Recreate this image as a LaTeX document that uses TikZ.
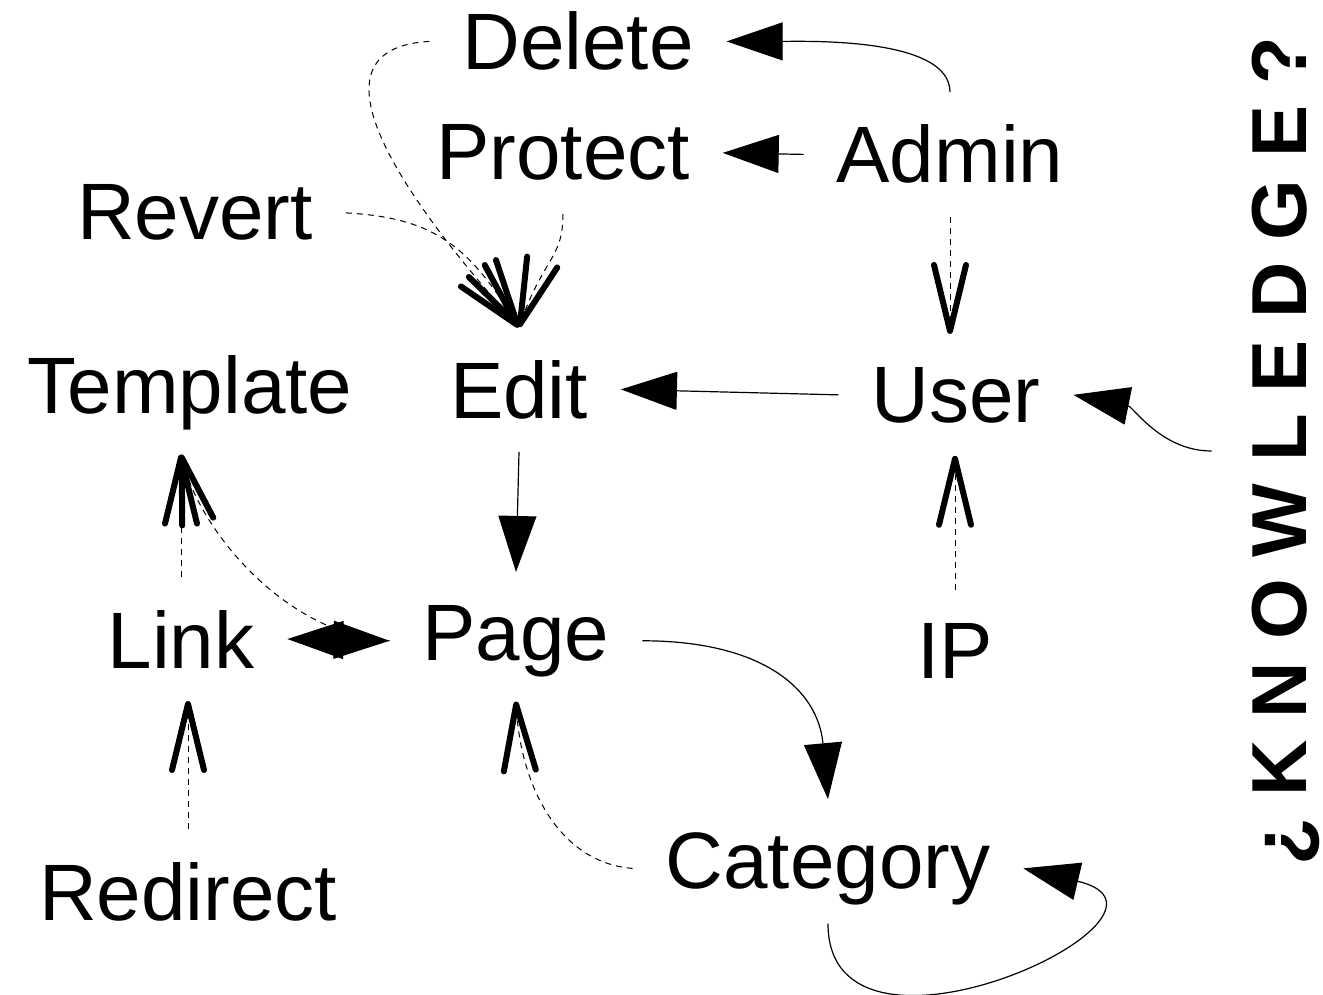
\documentclass[tikz,border=0pt]{standalone}
\usepackage{fontspec}
\setmainfont{Liberation Sans}
\usetikzlibrary{arrows.meta}

\tikzset{
    tri/.tip={Triangle[length=56pt,width=38pt]},
    vee/.tip={Straight Barb[length=66pt,width=32pt,line width=6pt,round]},
    term/.style={font=\fontsize{80}{90}\selectfont, anchor=base, inner sep=0pt, outer sep=33pt},
    strong/.style={line width=1.2pt, -tri},
    weak/.style={line width=1pt, dash pattern=on 6pt off 5pt, -vee},
}

\begin{document}
\begin{tikzpicture}[x=1pt, y=-1pt]
    \useasboundingbox (0,0) rectangle (1323,995);
    \node[term] (delete) at (578,70) {Delete};
    \node[term] (protect) at (563,180) {Protect};
    \node[term] (admin) at (950,183) {Admin};
    \node[term] (revert) at (195,240) {Revert};
    \node[term] (template) at (190,413) {Template};
    \node[term] (edit) at (519,418) {Edit};
    \node[term] (user) at (956,422) {User};
    \node[term] (link) at (181,668) {Link};
    \node[term] (page) at (516,660) {Page};
    \node[term] (ip) at (955,678) {IP};
    \node[term] (category) at (828,888) {Category};
    \node[term] (redirect) at (188,920) {Redirect};
    \node[rotate=90, anchor=base, inner sep=0pt, outer sep=40pt,
        font=\fontsize{78}{90}\selectfont\bfseries\addfontfeature{LetterSpace=28}]
        (knowledge) at (1306,451) {¿KNOWLEDGE?};

    \draw[strong] (admin.north) .. controls +(0,-55) and +(80,0) .. (delete.east);
    \draw[strong] (admin.west) -- (protect.east);
    \draw[weak] (admin.south) -- (admin.south |- user.north);
    \draw[weak] (delete.west) .. controls +(-142,8) and +(-90,-100) .. (edit.north);
    \draw[weak] (revert.east) .. controls +(90,5) and +(-50,-80) .. (edit.north);
    \draw[weak] (protect.south) .. controls +(0,45) and +(25,-70) .. (edit.north);
    \draw[strong] (user.west) -- (edit.east);
    \draw[strong] (knowledge.north) .. controls +(-50,0) and +(60,12) .. (user.east);
    \draw[strong] (edit.south) -- (page.north);
    \draw[weak] (ip.north) -- (ip.north |- user.south);
    \draw[strong] (page.east) .. controls +(120,0) and +(-10,-110) .. (category.north);
    \draw[weak] (category.west) .. controls +(-70,-5) and +(5,90) .. ([yshift=8pt]page.south);
    \draw[strong] ([yshift=14pt]category.south) .. controls +(0,170) and +(190,45) .. (category.east);
    \draw[strong, tri-tri] (link.east) -- (page.west);
    \draw[weak] (link.north) -- ([yshift=8pt]link.north |- template.south);
    \draw[weak] (page.west) .. controls +(-100,-5) and +(20,80) .. ([yshift=8pt]link.north |- template.south);
    \draw[weak] (redirect.north) -- (redirect.north |- link.south);
\end{tikzpicture}
\end{document}
